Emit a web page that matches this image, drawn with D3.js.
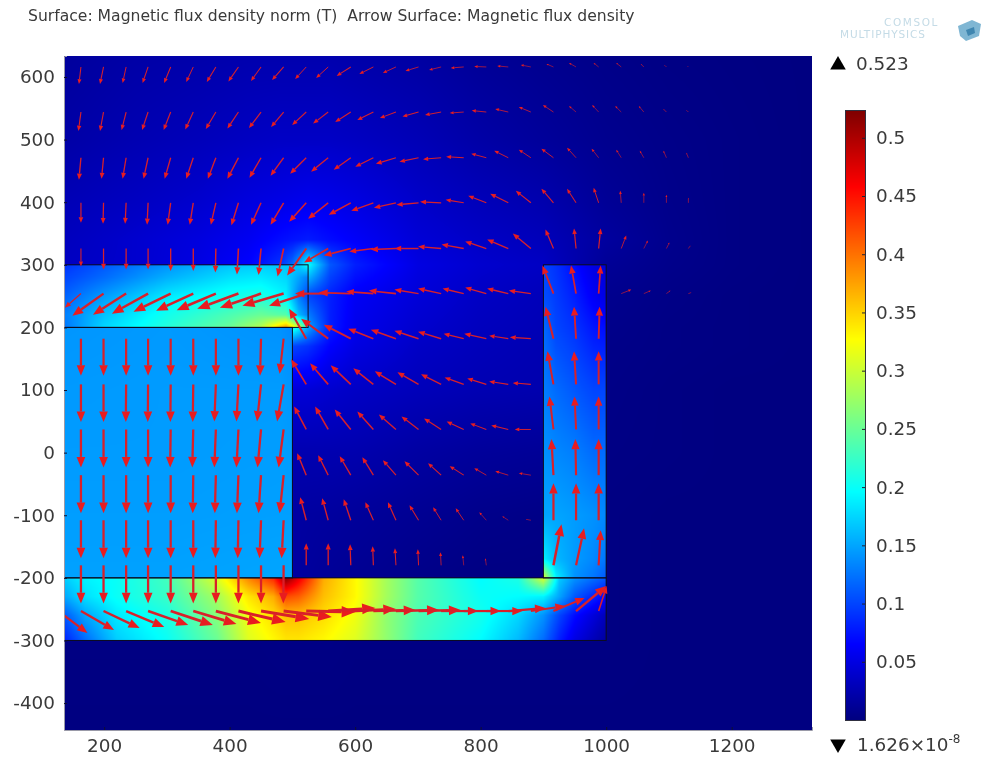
<!DOCTYPE html>
<html>
<head>
<meta charset="utf-8">
<script src="https://cdn.jsdelivr.net/npm/d3@7"></script>
<style>
  html, body { margin: 0; padding: 0; background: #fff; }
  #wrap { position: relative; width: 982px; height: 763px; overflow: hidden; }
  canvas { position: absolute; filter: blur(0.6px); }
  svg { position: absolute; left: 0; top: 0; }
  text { font-family: "DejaVu Sans", sans-serif; fill: #3a3a3a; }
</style>
</head>
<body>
<div id="wrap"></div>
<script>
var titleText = "Surface: Magnetic flux density norm (T)  Arrow Surface: Magnetic flux density";
var xTicks = [200, 400, 600, 800, 1000, 1200];
var yTicks = [600, 500, 400, 300, 200, 100, 0, -100, -200, -300, -400];
var barTicks = [0.05, 0.1, 0.15, 0.2, 0.25, 0.3, 0.35, 0.4, 0.45, 0.5];
var maxValue = 0.523;
var minLabel = "1.626×10";

// jet colours
var jetValues = [0, 0.065, 0.196, 0.327, 0.458, 0.523];
var jetColors = ["#00007f", "#0000ff", "#00ffff", "#ffff00", "#ff0000", "#7f0000"];

// field values, rows go from top to bottom
var airXs = [136, 250, 350, 430, 480, 500, 525, 560, 600, 700, 800, 900, 1000, 1100, 1200, 1328];
var airYs = [633, 500, 400, 340, 300, 250, 200, 170, 100, 0, -100, -200, -300, -443];
var airValues = [
  [.015, .02, .022, .024, .024, .024, .024, .024, .022, .018, .012, .008, .005, .003, .002, .001],
  [.02, .026, .03, .034, .036, .036, .036, .036, .034, .028, .02, .014, .008, .005, .003, .001],
  [.028, .034, .04, .048, .052, .054, .056, .054, .05, .038, .03, .024, .012, .006, .003, .001],
  [.032, .04, .048, .058, .07, .074, .078, .07, .062, .044, .036, .03, .016, .007, .003, .001],
  [.034, .04, .05, .065, .09, .12, .2, .11, .08, .05, .04, .035, .012, .006, .003, .001],
  [.03, .03, .03, .03, .05, .09, .1, .08, .06, .045, .035, .03, .008, .004, .002, .001],
  [.03, .03, .03, .03, .05, .22, .15, .08, .055, .04, .032, .028, .006, .003, .002, .001],
  [.03, .03, .03, .03, .05, .1, .09, .065, .05, .036, .03, .026, .005, .003, .002, .001],
  [.03, .03, .03, .03, .04, .045, .044, .04, .036, .03, .026, .024, .004, .002, .001, .001],
  [.02, .02, .02, .02, .025, .025, .025, .025, .024, .018, .014, .012, .003, .002, .001, .001],
  [.015, .015, .015, .015, .018, .018, .017, .016, .014, .01, .006, .004, .002, .001, .001, .001],
  [.01, .01, .01, .01, .018, .018, .015, .012, .01, .005, .002, .002, .002, .001, .001, .001],
  [.002, .002, .002, .002, .003, .003, .003, .003, .002, .002, .002, .002, .002, .001, .001, .001],
  [.001, .001, .001, .001, .001, .001, .001, .001, .001, .001, .001, .001, .001, .001, .001, .001]
];

var upperXs = [136, 200, 300, 400, 450, 490, 510, 525];
var upperYs = [300, 280, 250, 220, 200];
var upperValues = [
  [.09, .11, .14, .165, .17, .165, .17, .2],
  [.10, .12, .155, .18, .185, .175, .15, .13],
  [.115, .145, .185, .205, .21, .19, .13, .10],
  [.13, .165, .205, .235, .25, .24, .16, .13],
  [.125, .175, .215, .25, .29, .38, .30, .20]
];

var blockXs = [136, 300, 480, 500];
var blockYs = [200, 100, 0, -100, -200];
var blockValues = [
  [.142, .144, .14, .135],
  [.144, .145, .145, .142],
  [.145, .145, .146, .145],
  [.146, .146, .147, .147],
  [.148, .148, .15, .152]
];

var lowerXs = [136, 170, 220, 300, 380, 430, 470, 490, 510, 550, 600, 650, 700, 800, 860, 900, 925, 950, 1000];
var lowerYs = [-200, -230, -260, -300];
var lowerValues = [
  [.17, .19, .2, .23, .31, .39, .44, .52, .47, .37, .33, .28, .24, .195, .21, .31, .17, .14, .11],
  [.15, .18, .2, .225, .28, .34, .37, .42, .41, .36, .33, .28, .24, .2, .195, .19, .15, .11, .065],
  [.11, .15, .185, .21, .265, .32, .345, .36, .36, .345, .32, .27, .235, .205, .175, .14, .10, .07, .03],
  [.08, .12, .17, .2, .25, .31, .33, .34, .34, .33, .31, .27, .23, .195, .16, .12, .08, .05, .015]
];

var rightXs = [900, 920, 950, 980, 1000];
var rightYs = [300, 250, 200, 100, 0, -100, -170, -200];
var rightValues = [
  [.1, .09, .07, .05, .045],
  [.105, .095, .08, .06, .05],
  [.12, .1, .09, .075, .07],
  [.13, .12, .11, .1, .1],
  [.14, .135, .13, .12, .12],
  [.15, .15, .145, .14, .135],
  [.19, .16, .145, .135, .125],
  [.31, .19, .14, .125, .11]
];

// arrows: tail columns and rows, then u,v per tail (u to the right, v downwards)
var arrowXs = [127, 163, 199, 235, 270, 306, 342, 378, 414, 450, 486, 522, 557, 593, 629, 665, 701, 737, 773, 809, 844, 880, 916, 952, 988, 1024, 1060, 1096, 1131];
var arrowYs = [616, 544, 471, 399, 326, 254, 182, 109, 37, -36, -108, -180, -253];
var arrowUnit = 1.6;
var arrowRows = [
  [null, [-2,17],[-3.5,17],[-3.5,16],[-5.5,16],[-6.5,16],[-7,15],[-9,15],[-10,14.5],[-10,14],[-11.5,13],[-11,12],[-12,11],[-14,9],[-14,7],[-13,6],[-13,4],[-12,3],[-13,1],[-12,-0.5],[-11,-1],[-10,-2],[-7,-3],[-7,-4],[-5,-4],[-5,-4],[-3,-3],[-2,-2],[-1,-1]],
  [null, [-2.5,19],[-3.5,19],[-4.5,18],[-6,18],[-7,18],[-8,17.5],[-10,17],[-11,16.5],[-12,16],[-12.5,15],[-14,13],[-15,11.5],[-15.5,10],[-16,8],[-16,6],[-16,4.5],[-16,3],[-14,1],[-14.5,-1.5],[-13,-3],[-12,-5],[-10.5,-7],[-7,-6],[-6.5,-7],[-6,-6],[-5,-6],[-3,-3],[-2,-2]],
  [null, [-2,22],[-2,21],[-3.5,21],[-4.5,21],[-6,21],[-7,21],[-8,21],[-11,21],[-11.5,20],[-13,18],[-16,16],[-17,14],[-17,12],[-18,9],[-20,6],[-19,4],[-18,1.5],[-17.5,-1],[-15,-4],[-14,-7],[-12,-8],[-12,-9],[-9,-10],[-7,-9],[-5,-8],[-4,-7],[-3,-7],[-2,-5]],
  [null, [0,20],[-0.5,21],[-1,21],[-1,22],[-3,22],[-3.5,22],[-5,22],[-7,22.5],[-10,22],[-13,22],[-17,19],[-20,16],[-22,12],[-22,8],[-22,5],[-22,2],[-21,-1],[-18,-3],[-18,-7],[-18,-9],[-15,-12],[-12,-14],[-9,-14],[-5,-15],[-1,-12],[0,-10],[0,-8],[0,-5]],
  [null, [0,18],[0,21],[0,21],[0,21],[0,22.5],[0,22.5],[-0.5,24],[-1.5,26],[-2.5,26.5],[-6,28],[-19,27],[-24,14],[-27,7],[-24,3],[-25,1],[-24,0],[-23,-2],[-22,-4],[-21,-7],[-21,-9],[-18,-15],[-8,-19],[-2,-20],[2,-20],[5,-13],[4,-8],[3,-6],[2,-3]],
  [null, [-16,14],[-31,22],[-33,21],[-36,20],[-37,18],[-37,17],[-39,16.5],[-41,15],[-41,14],[-41,12],[-37,12],[-33,0],[-32,-1],[-27,-2],[-27,-3],[-24,-4],[-23,-5],[-21,-5],[-21,-6],[-21,-5],[-22,-3],[-11,-28],[-5,-28],[2,-28],[10,-4],[7,-3],[4,-3],[3,-1]],
  [null, [0,37],[0,37],[0,37],[0,37],[0,37],[0,37],[0,37],[0,37],[-1,37],[-4,35],[-17,-30],[-27,-20],[-27,-14],[-25,-10],[-25,-9],[-24,-8],[-23,-7],[-20,-5],[-22,-5],[-19,-3],[-21,-1.5],[-8,-32],[-2,-32],[1,-32]],
  [null, [0,37.5],[0,37.5],[-0.3,37.5],[-0.3,37.5],[-0.3,37.5],[-0.5,37.5],[-1.5,37],[-2,37],[-4,37],[-6.5,37],[-15,-25],[-18,-21],[-20,-19],[-20,-16],[-21,-13],[-21,-12],[-20,-10],[-19,-7],[-19,-6],[-19,-3],[-18,-1.5],[-6,-33],[-2,-33],[0,-33]],
  [null, [0,38],[0,38],[0,38],[0,38],[-0.5,38],[-1,38],[-1.5,38],[-2,38],[-3.5,38],[-5,38],[-12,-23],[-13,-23],[-16,-20],[-16,-18],[-17,-15],[-17,-13],[-17,-11],[-17,-8],[-16,-6],[-17,-4],[-16,0],[-4,-33],[-1.5,-33],[0,-33]],
  [null, [0,38],[0,38],[0,38],[0,38],[0,38],[-0.5,38],[-1,38],[-1.5,38],[-2.5,38],[-4,38],[-9,-22],[-10,-20],[-11,-19],[-11,-18],[-13,-15],[-14,-14],[-13,-12],[-14,-9],[-12,-7],[-13,-4],[-12,-2],[-2,-36],[-0.7,-36],[0,-36]],
  [null, [0,38],[0,38],[0,38],[0,38],[0,38],[0,38],[-0.5,38],[-0.7,38],[-1.5,38],[-2,38],[-6,-23],[-6,-22],[-7,-21],[-8,-18],[-8,-18],[-9,-15],[-8,-13],[-8,-12],[-7,-8],[-6,-4],[-5,-1],[0,-37],[0,-37],[0,-37]],
  [null, [0,38],[0,38],[0,38],[0,38],[0,38],[0,38],[0,38],[0,38],[0,38],[-0.3,38],[0,-22],[0,-22],[-0.7,-21],[-0.7,-19],[-1,-17],[-0.7,-16],[-0.7,-13],[-1,-10],[-1,-7],null,null,[8,-41],[8,-37],[2,-35]],
  [[29,22],[33,19],[36,17],[38,16],[40,14],[42,14],[43,13],[45,12],[47,11],[48,8],[48,6],[49,1],[47,-3],[45,-2],[42,-1],[43,-1],[42,-1],[37,0],[37,0],[36,0],[37,-3],[34,-5],[31,-13],[30,-25],[8,-25]]
];

var margin = { top: 56, left: 64, right: 170, bottom: 33 };
var svgWidth = 982, svgHeight = 763;
var plotWidth = svgWidth - margin.left - margin.right;
var plotHeight = svgHeight - margin.top - margin.bottom;

var xScale = d3.scaleLinear().domain([136, 1328]).range([0, plotWidth]);
var yScale = d3.scaleLinear().domain([633.5, -443]).range([0, plotHeight]);
var colorScale = d3.scaleLinear().domain(jetValues).range(jetColors).clamp(true);

// lookup table so we dont parse a colour per pixel
var lut = d3.range(1024).map(function(i) {
  return d3.rgb(colorScale(i / 1023 * maxValue));
});

var wrap = d3.select("#wrap");
var canvas = wrap.append("canvas")
  .attr("width", plotWidth)
  .attr("height", plotHeight)
  .style("left", margin.left + "px")
  .style("top", margin.top + "px");
var ctx = canvas.node().getContext("2d");
var image = ctx.createImageData(plotWidth, plotHeight);

function cellIndex(list, v, descending) {
  var i = 0;
  while (i < list.length - 2 && (descending ? v < list[i + 1] : v > list[i + 1])) i++;
  return i;
}

// paints one region of the model, bilinear between the read values
function paintRegion(xs, ys, values) {
  var px0 = Math.max(0, Math.round(xScale(xs[0])));
  var px1 = Math.min(plotWidth, Math.round(xScale(xs[xs.length - 1])));
  var py0 = Math.max(0, Math.round(yScale(ys[0])));
  var py1 = Math.min(plotHeight, Math.round(yScale(ys[ys.length - 1])));
  for (var py = py0; py < py1; py++) {
    var yv = yScale.invert(py + 0.5);
    var r = cellIndex(ys, yv, true);
    var ty = (ys[r] - yv) / (ys[r] - ys[r + 1]);
    for (var px = px0; px < px1; px++) {
      var xv = xScale.invert(px + 0.5);
      var c = cellIndex(xs, xv, false);
      var tx = (xv - xs[c]) / (xs[c + 1] - xs[c]);
      var top = values[r][c] * (1 - tx) + values[r][c + 1] * tx;
      var bot = values[r + 1][c] * (1 - tx) + values[r + 1][c + 1] * tx;
      var v = top * (1 - ty) + bot * ty;
      var col = lut[Math.max(0, Math.min(1023, Math.round(v / maxValue * 1023)))];
      var k = (py * plotWidth + px) * 4;
      image.data[k] = col.r;
      image.data[k + 1] = col.g;
      image.data[k + 2] = col.b;
      image.data[k + 3] = 255;
    }
  }
}

paintRegion(airXs, airYs, airValues);
paintRegion(blockXs, blockYs, blockValues);
paintRegion(upperXs, upperYs, upperValues);
paintRegion(lowerXs, lowerYs, lowerValues);
paintRegion(rightXs, rightYs, rightValues);
ctx.putImageData(image, 0, 0);

var svg = wrap.append("svg")
  .attr("width", svgWidth)
  .attr("height", svgHeight);

svg.append("text")
  .attr("x", 28)
  .attr("y", 21)
  .style("font-size", "15.6px")
  .style("white-space", "pre")
  .attr("xml:space", "preserve")
  .text(titleText);

var group = svg.append("g")
  .attr("transform", "translate(" + margin.left + "," + margin.top + ")");

svg.append("defs").append("clipPath")
  .attr("id", "plotClip")
  .append("rect")
  .attr("width", plotWidth)
  .attr("height", plotHeight);

// model outlines
var regions = [
  [136, 525, 300, 200],
  [136, 500, 200, -200],
  [136, 1000, -200, -300],
  [900, 1000, 300, -200]
];
group.append("g")
  .attr("clip-path", "url(#plotClip)")
  .selectAll("rect")
  .data(regions)
  .enter()
  .append("rect")
  .attr("x", function(d) { return xScale(d[0]); })
  .attr("y", function(d) { return yScale(d[2]); })
  .attr("width", function(d) { return xScale(d[1]) - xScale(d[0]); })
  .attr("height", function(d) { return yScale(d[3]) - yScale(d[2]); })
  .attr("fill", "none")
  .attr("stroke", "#0c0c20")
  .attr("stroke-width", 1);

// flatten arrow rows
var arrows = [];
arrowRows.forEach(function(row, j) {
  row.forEach(function(a, i) {
    if (!a) return;
    arrows.push({
      x: arrowXs[i], y: arrowYs[j],
      x2: arrowXs[i] + a[0] * arrowUnit,
      y2: arrowYs[j] - a[1] * arrowUnit
    });
  });
});

var arrowGroup = group.append("g").attr("clip-path", "url(#plotClip)");
arrows.forEach(function(d) {
  var x1 = xScale(d.x), y1 = yScale(d.y), x2 = xScale(d.x2), y2 = yScale(d.y2);
  var len = Math.sqrt((x2 - x1) * (x2 - x1) + (y2 - y1) * (y2 - y1));
  if (len < 1) return;
  var ux = (x2 - x1) / len, uy = (y2 - y1) / len;
  var headLen = len * 0.28, headW = len * 0.115;
  var bx = x2 - ux * headLen, by = y2 - uy * headLen;
  arrowGroup.append("line")
    .attr("x1", x1).attr("y1", y1)
    .attr("x2", bx).attr("y2", by)
    .attr("stroke", "#d8202a")
    .attr("stroke-width", Math.max(0.6, len * 0.06));
  arrowGroup.append("polygon")
    .attr("points", [
      [x2, y2],
      [bx - uy * headW, by + ux * headW],
      [bx + uy * headW, by - ux * headW]
    ].join(" "))
    .attr("fill", "#e81c20");
});

// axes
var xAxis = d3.axisBottom(xScale).tickValues(xTicks).tickSize(-3).tickPadding(9).tickFormat(String);
var yAxis = d3.axisLeft(yScale).tickValues(yTicks).tickSize(-3).tickPadding(9).tickFormat(String);

var xg = group.append("g")
  .attr("transform", "translate(0," + plotHeight + ")")
  .call(xAxis);
var yg = group.append("g").call(yAxis);

[xg, yg].forEach(function(g) {
  g.select(".domain").attr("stroke", "#9a9aa8").attr("stroke-width", 1);
  g.selectAll(".tick line").attr("stroke", "#101030");
  g.selectAll("text").style("font-size", "18.4px").style("font-family", "DejaVu Sans").attr("fill", "#3a3a3a");
});

// colour bar
var barScale = d3.scaleLinear().domain([maxValue, 0]).range([111, 720]);
var barSteps = d3.range(0, 609);
svg.append("g").selectAll("rect")
  .data(barSteps)
  .enter()
  .append("rect")
  .attr("x", 846)
  .attr("y", function(d) { return 111 + d; })
  .attr("width", 19)
  .attr("height", 1.5)
  .attr("fill", function(d) { return colorScale(barScale.invert(111 + d + 0.5)); });

svg.append("rect")
  .attr("x", 845.5).attr("y", 110.5)
  .attr("width", 20).attr("height", 610)
  .attr("fill", "none").attr("stroke", "#303040").attr("stroke-width", 1);

var barAxis = d3.axisRight(barScale).tickValues(barTicks).tickSize(-3).tickPadding(11).tickFormat(String);
var bg = svg.append("g").attr("transform", "translate(865,0)").call(barAxis);
bg.select(".domain").remove();
bg.selectAll(".tick line").attr("stroke", "#202030");
bg.selectAll("text").style("font-size", "18.4px").style("font-family", "DejaVu Sans").attr("fill", "#3a3a3a");

// max and min markers
var triangle = d3.symbol().type(d3.symbolTriangle).size(105);
svg.append("path").attr("d", triangle()).attr("transform", "translate(838,65)").attr("fill", "#000");
svg.append("path").attr("d", triangle()).attr("transform", "translate(838,744) rotate(180)").attr("fill", "#000");

svg.append("text").attr("x", 856).attr("y", 70).style("font-size", "18.4px").text(maxValue);
var minText = svg.append("text").attr("x", 857).attr("y", 751).style("font-size", "18.4px").text(minLabel);
minText.append("tspan").attr("dy", -8).style("font-size", "12px").text("-8");

// logo top right
var logo = svg.append("g");
logo.append("text").attr("x", 884).attr("y", 26).style("font-size", "10.5px").style("letter-spacing", "1.6px").style("fill", "#c4dbe6").text("COMSOL");
logo.append("text").attr("x", 840).attr("y", 38).style("font-size", "10.5px").style("letter-spacing", "0.9px").style("fill", "#c4dbe6").text("MULTIPHYSICS");
logo.append("polygon").attr("points", "958,26 972,20 981,24 979,36 966,41 960,36").attr("fill", "#7fb6d3");
logo.append("polygon").attr("points", "966,30 974,27 975,33 968,36").attr("fill", "#3f86b0");
</script>
</body>
</html>
